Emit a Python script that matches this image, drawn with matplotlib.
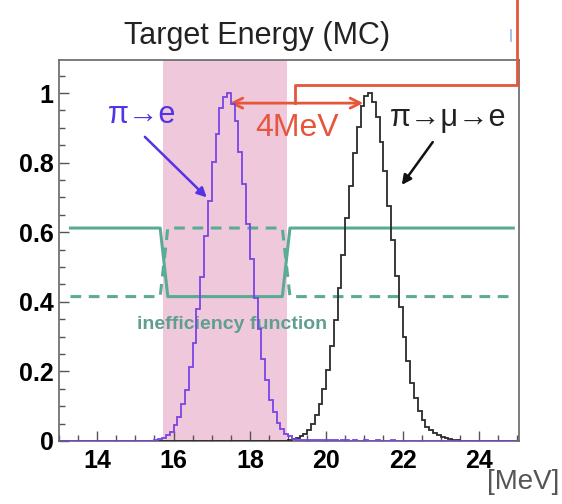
import numpy as np
import matplotlib
matplotlib.use("Agg")
import matplotlib.pyplot as plt
from matplotlib.ticker import MultipleLocator

# ---------------- DATA ----------------
bin_width = 0.1
x_start = 13.0
n_bins = 120

# pi -> e peak (bin contents, first bin 25 = 15.5 MeV)
pie_first_bin = 25
pie_counts = [0.003, 0.006, 0.010, 0.018, 0.027, 0.047, 0.068, 0.106, 0.148, 0.214,
              0.283, 0.378, 0.472, 0.588, 0.690, 0.802, 0.882, 0.956, 0.990, 1.000,
              0.968, 0.919, 0.830, 0.740, 0.625, 0.522, 0.410, 0.323, 0.236, 0.175,
              0.118, 0.084, 0.052, 0.035, 0.020, 0.013, 0.007, 0.004, 0.003,
              0.004, 0.003, 0.003, 0.002, 0.003, 0.002, 0.002, 0.003, 0.002, 0.001,
              0.002, 0.002, 0.001, 0.002, 0.001, 0.001, 0.002, 0.001, 0.001, 0.002,
              0.001, 0.001, 0.001, 0.002, 0.001, 0.001]

# pi -> mu -> e peak (first bin 60 = 19.0 MeV)
pimue_first_bin = 60
pimue_counts = [0.002, 0.005, 0.008, 0.013, 0.021, 0.033, 0.050, 0.075, 0.105, 0.150,
                0.203, 0.272, 0.348, 0.441, 0.534, 0.640, 0.733, 0.829, 0.902, 0.963,
                0.992, 1.000, 0.975, 0.931, 0.858, 0.776, 0.675, 0.578, 0.475, 0.386,
                0.300, 0.231, 0.168, 0.124, 0.085, 0.060, 0.041, 0.032, 0.024, 0.017,
                0.012, 0.008, 0.005, 0.003, 0.002, 0.001]

# inefficiency function (solid) and its complement (dashed)
ineff_x = [13.3, 15.65, 15.85, 18.85, 19.05, 24.9]
ineff_solid = [0.612, 0.612, 0.415, 0.415, 0.612, 0.612]
ineff_dash = [0.415, 0.415, 0.612, 0.612, 0.415, 0.415]

window = (15.72, 18.97)       # shaded pi->e window
peak_pie = 17.47
peak_pimue = 20.97

x_ticks = [14, 16, 18, 20, 22, 24]
y_ticks = [0, 0.2, 0.4, 0.6, 0.8, 1]
y_tick_labels = ["0", "0.2", "0.4", "0.6", "0.8", "1"]

# ---------------- COLOURS ----------------
pink = "#efc8db"
green = "#5aab95"
violet = "#7a44e6"
blue_txt = "#5433e6"
red = "#e5563c"

edges = np.round(x_start + bin_width * np.arange(n_bins + 1), 3)
pie_full = np.zeros(n_bins)
pie_full[pie_first_bin:pie_first_bin + len(pie_counts)] = pie_counts
pimue_full = np.zeros(n_bins)
pimue_full[pimue_first_bin:pimue_first_bin + len(pimue_counts)] = pimue_counts

# ---------------- PLOT ----------------
fig = plt.figure(figsize=(5.62, 5.04), dpi=100)
ax = fig.add_axes([0.105, 0.125, 0.8185, 0.756])

ax.axvspan(window[0], window[1], color=pink, lw=0, zorder=0)

ax.plot(ineff_x, ineff_solid, color=green, lw=2.2, zorder=2)
ax.plot(ineff_x, ineff_dash, color=green, lw=2.2, ls=(0, (3.5, 2.5)), zorder=2)

ax.stairs(pimue_full, edges, color="#2b2b2b", lw=1.3, zorder=3)
ax.stairs(pie_full, edges, color=violet, lw=1.3, zorder=4)

ax.set_xlim(13.0, 25.05)
ax.set_ylim(0, 1.095)

ax.set_xticks(x_ticks)
ax.set_yticks(y_ticks)
ax.set_yticklabels(y_tick_labels)
ax.xaxis.set_minor_locator(MultipleLocator(0.5))
ax.yaxis.set_minor_locator(MultipleLocator(0.05))
ax.tick_params(which="both", direction="in", top=False, right=False, color="#555555")
ax.tick_params(which="major", length=7, width=1)
ax.tick_params(which="minor", length=4, width=1)
ax.tick_params(axis="x", pad=6)
ax.tick_params(axis="y", pad=4)
for lab in ax.get_xticklabels() + ax.get_yticklabels():
    lab.set_fontfamily("Liberation Sans")
    lab.set_fontweight("bold")
    lab.set_fontsize(18)
for sp in ax.spines.values():
    sp.set_color("#666666")
    sp.set_linewidth(1.2)

# annotations
sym_font = ["Liberation Sans", "DejaVu Sans"]
ax.text(14.28, 0.937, "π→e", color=blue_txt, fontsize=22, family=sym_font,
        ha="left", va="center")
ax.annotate("", xy=(16.87, 0.70), xytext=(15.25, 0.874),
            arrowprops=dict(arrowstyle="-|>", color=blue_txt, lw=1.8,
                            mutation_scale=14, shrinkA=0, shrinkB=0))
ax.text(21.67, 0.928, "π→μ→e", color="#222222", fontsize=22, family=sym_font,
        ha="left", va="center")
ax.annotate("", xy=(21.98, 0.736), xytext=(22.79, 0.859),
            arrowprops=dict(arrowstyle="-|>", color="#111111", lw=1.8,
                            mutation_scale=14, shrinkA=0, shrinkB=0))

ax.text(18.13, 0.90, "4MeV", color=red, fontsize=23, family="Liberation Sans",
        ha="left", va="center")
ax.annotate("", xy=(peak_pie, 0.971), xytext=(peak_pimue, 0.971),
            arrowprops=dict(arrowstyle="<->", color=red, lw=2.0,
                            mutation_scale=18, shrinkA=0, shrinkB=0),
            annotation_clip=False)
ax.plot([19.18, 19.18, 24.99, 24.99], [0.971, 1.023, 1.023, 1.35],
        color=red, lw=2.0, clip_on=False, zorder=5)

ax.text(15.05, 0.336, "inefficiency function", color="#5f9e90", fontsize=14,
        fontweight="bold", family="Liberation Sans", ha="left", va="center")

fig.text(0.457, 0.929, "Target Energy (MC)", fontsize=22, color="#222222",
         family=["Liberation Sans Narrow", "Liberation Sans"], ha="center", va="center")
fig.text(0.995, 0.018, "[MeV]", fontsize=20, color="#555555",
         family=["Liberation Sans Narrow", "Liberation Sans"], ha="right", va="bottom")

# small blue mark near the top right
fig.add_artist(plt.Line2D([0.909, 0.909], [0.918, 0.94], color="#9ab4e0", lw=1.2))

fig.savefig("out.png", dpi=100)
plt.close(fig)
